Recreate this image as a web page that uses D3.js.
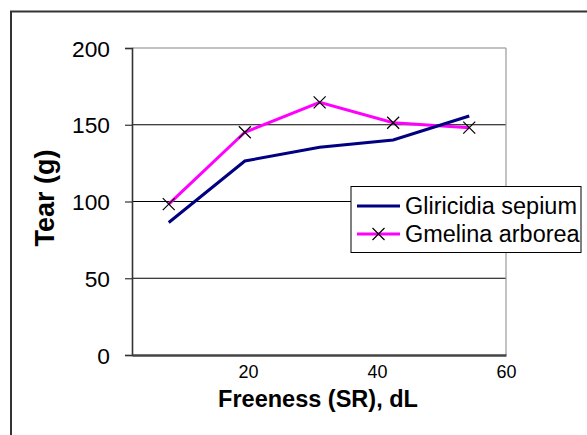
<!DOCTYPE html>
<html>
<head>
<meta charset="utf-8">
<script src="https://cdn.jsdelivr.net/npm/d3@7/dist/d3.min.js"></script>
<style>
  html, body { margin: 0; padding: 0; background: #fff; }
  svg { display: block; font-family: Arial, "Liberation Sans", sans-serif; }
</style>
</head>
<body>
<svg id="chart" width="587" height="435"></svg>
<script>
// Freeness (SR, dL) at each refining stage
const freeness = [7.7, 19.5, 31.1, 42.5, 54.3];
// Tear values (g) per species
const gliricidia = [86.3, 126.4, 135.3, 140.1, 155.7];
const gmelina = [98.3, 145.1, 164.6, 151.3, 148.1];
const seriesNames = ["Gliricidia sepium", "Gmelina arborea"];
const yTicks = [0, 50, 100, 150, 200];
const xTicks = [20, 40, 60];

const svg = d3.select("#chart");

// scale a text element's font size so its rendered width equals `w`
function fitWidth(sel, w) {
  sel.each(function () {
    const fs = parseFloat(this.getAttribute("font-size"));
    const len = this.getComputedTextLength();
    if (len > 0) this.setAttribute("font-size", (fs * w / len).toFixed(2));
  });
}

// outer frame
svg.append("rect")
  .attr("x", 11).attr("y", 11.5)
  .attr("width", 600).attr("height", 440)
  .attr("fill", "#fff").attr("stroke", "#333").attr("stroke-width", 2);

const plot = { left: 132, right: 506, top: 48, bottom: 355 };

const x = d3.scaleLinear().domain([2, 60]).range([plot.left, plot.right]);
const y = d3.scaleLinear().domain([0, 200]).range([plot.bottom, plot.top]);

// gridlines
svg.append("g")
  .selectAll("line")
  .data(yTicks.filter(d => d > 0 && d < 200))
  .join("line")
  .attr("x1", plot.left).attr("x2", plot.right)
  .attr("y1", d => y(d)).attr("y2", d => y(d))
  .attr("stroke", "#000").attr("stroke-width", 1);

// plot-area frame: top and right edges
svg.append("line")
  .attr("x1", plot.left).attr("x2", plot.right)
  .attr("y1", plot.top).attr("y2", plot.top)
  .attr("stroke", "#888").attr("stroke-width", 1.2);
svg.append("line")
  .attr("x1", plot.right).attr("x2", plot.right)
  .attr("y1", plot.top).attr("y2", plot.bottom)
  .attr("stroke", "#999").attr("stroke-width", 1.2);

// y axis
const yAxis = d3.axisLeft(y).tickValues(yTicks).tickSize(7).tickPadding(15);
const gy = svg.append("g").attr("transform", `translate(${plot.left},0)`).call(yAxis);
gy.select(".domain").attr("stroke", "#333").attr("stroke-width", 1.6);
gy.selectAll(".tick line").attr("stroke", "#333").attr("stroke-width", 1.2);
gy.selectAll(".tick text")
  .attr("font-size", 22).attr("fill", "#000")
  .attr("font-family", "Arial, 'Liberation Sans', sans-serif")
  .attr("dy", "0.36em");
fitWidth(gy.selectAll(".tick text").filter(d => d === 200), 38);
const ySize = gy.selectAll(".tick text").filter(d => d === 200).attr("font-size");
gy.selectAll(".tick text").attr("font-size", ySize);

// x axis
const xAxis = d3.axisBottom(x).tickValues(xTicks).tickSize(0).tickPadding(10);
const gx = svg.append("g").attr("transform", `translate(0,${plot.bottom})`).call(xAxis);
gx.select(".domain").attr("stroke", "#444").attr("stroke-width", 2.4);
gx.selectAll(".tick text")
  .attr("font-size", 18).attr("fill", "#000")
  .attr("font-family", "Arial, 'Liberation Sans', sans-serif");
fitWidth(gx.selectAll(".tick text").filter(d => d === 60), 20);
const xSize = gx.selectAll(".tick text").filter(d => d === 60).attr("font-size");
gx.selectAll(".tick text").attr("font-size", xSize);

// axis titles
const xTitle = svg.append("text")
  .attr("x", 318).attr("y", 407)
  .attr("text-anchor", "middle")
  .attr("font-size", 23.5).attr("font-weight", "bold")
  .text("Freeness (SR), dL");
fitWidth(xTitle, 200);
const yTitle = svg.append("text")
  .attr("transform", "translate(54,198) rotate(-90)")
  .attr("text-anchor", "middle")
  .attr("font-size", 24).attr("font-weight", "bold")
  .text("Tear (g)");
fitWidth(yTitle, 97);

// series lines
const line = d3.line().x(d => x(d[0])).y(d => y(d[1]));
const gData = freeness.map((f, i) => [f, gliricidia[i]]);
const mData = freeness.map((f, i) => [f, gmelina[i]]);

svg.append("path").datum(mData)
  .attr("d", line).attr("fill", "none")
  .attr("stroke", "#ff00ff").attr("stroke-width", 3);
svg.append("path").datum(gData)
  .attr("d", line).attr("fill", "none")
  .attr("stroke", "#000080").attr("stroke-width", 3);

// X markers for Gmelina arborea
const cross = (g, cx, cy, r) => {
  g.append("path")
    .attr("d", `M${cx - r},${cy - r}L${cx + r},${cy + r}M${cx - r},${cy + r}L${cx + r},${cy - r}`)
    .attr("stroke", "#000").attr("stroke-width", 1.2).attr("fill", "none");
};
const markers = svg.append("g");
mData.forEach(d => cross(markers, x(d[0]), y(d[1]), 6));

// legend
const lg = svg.append("g");
lg.append("rect")
  .attr("x", 351).attr("y", 186.5).attr("width", 230).attr("height", 66)
  .attr("fill", "#fff").attr("stroke", "#000").attr("stroke-width", 1);
const rows = [
  { name: seriesNames[0], color: "#000080", marker: false },
  { name: seriesNames[1], color: "#ff00ff", marker: true }
];
rows.forEach((r, i) => {
  const cy = 206 + i * 28;
  lg.append("line")
    .attr("x1", 357).attr("x2", 400).attr("y1", cy).attr("y2", cy)
    .attr("stroke", r.color).attr("stroke-width", 3);
  if (r.marker) cross(lg, 378.5, cy, 6);
  const t = lg.append("text")
    .attr("x", 405).attr("y", cy + 8)
    .attr("font-size", 23)
    .text(r.name);
  if (i === 0) fitWidth(t, 172);
});
const legendSize = lg.select("text").attr("font-size");
lg.selectAll("text").attr("font-size", legendSize);
</script>
</body>
</html>
